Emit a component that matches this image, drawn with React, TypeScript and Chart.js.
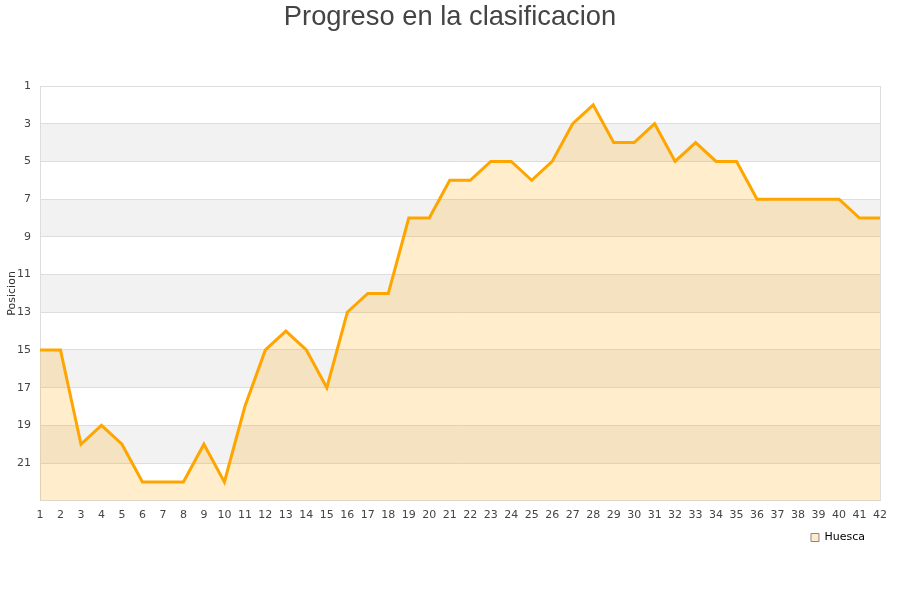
import React, { useEffect, useRef } from "react";
import { Chart, registerables } from "chart.js";

Chart.register(...registerables);

const TITLE = "Progreso en la clasificacion";
const SERIES_NAME = "Huesca";
const Y_TITLE = "Posicion";
const ROUNDS: string[] = [
  "1", "2", "3", "4", "5", "6", "7", "8", "9", "10",
  "11", "12", "13", "14", "15", "16", "17", "18", "19", "20",
  "21", "22", "23", "24", "25", "26", "27", "28", "29", "30",
  "31", "32", "33", "34", "35", "36", "37", "38", "39", "40",
  "41", "42",
];
const POSITIONS: number[] = [
  15, 15, 20, 19, 20, 22, 22, 22, 20, 22,
  18, 15, 14, 15, 17, 13, 12, 12, 8, 8,
  6, 6, 5, 5, 6, 5, 3, 2, 4, 4,
  3, 5, 4, 5, 5, 7, 7, 7, 7, 7,
  8, 8,
];
const Y_MIN = 1;
const Y_MAX = 23;
const Y_STEP = 2;

const bandsPlugin = {
  id: "bands",
  beforeDraw(chart: any) {
    const { ctx, chartArea, scales } = chart;
    const y = scales.y;
    ctx.save();
    ctx.fillStyle = "#f2f2f2";
    let k = 0;
    for (let v = Y_MIN; v < Y_MAX; v += Y_STEP, k++) {
      if (k % 2 === 1) {
        const a = y.getPixelForValue(v);
        const b = y.getPixelForValue(v + Y_STEP);
        ctx.fillRect(chartArea.left, Math.min(a, b), chartArea.right - chartArea.left, Math.abs(b - a));
      }
    }
    ctx.restore();
  },
};

const titlePlugin = {
  id: "centerTitle",
  afterDraw(chart: any) {
    const { ctx, width } = chart;
    ctx.save();
    ctx.fillStyle = "#444";
    ctx.font = "27.3px 'Liberation Sans', Arial, sans-serif";
    ctx.textAlign = "center";
    ctx.textBaseline = "middle";
    ctx.fillText(TITLE, width / 2, 17);
    ctx.restore();
  },
};

const legendShiftPlugin = {
  id: "legendShift",
  afterLayout(chart: any) {
    const l = chart.legend;
    if (l) {
      l.left -= 13;
      l.right -= 13;
    }
  },
};

export default function App() {
  const ref = useRef<HTMLCanvasElement | null>(null);
  useEffect(() => {
    document.body.style.margin = "0";
    const canvas = ref.current;
    if (!canvas) return;
    const last = ROUNDS.length - 1;
    const chart = new Chart(canvas, {
      type: "line",
      data: {
        labels: ROUNDS,
        datasets: [
          {
            label: SERIES_NAME,
            data: POSITIONS,
            borderColor: "#FFA500",
            backgroundColor: "rgba(255,165,0,0.2)",
            borderWidth: 3,
            pointRadius: 0,
            pointHoverRadius: 0,
            tension: 0,
            fill: "start",
          },
        ],
      },
      options: {
        animation: false,
        responsive: false,
        devicePixelRatio: 1,
        layout: { padding: { left: 4, right: 20, top: 86, bottom: 47 } },
        plugins: {
          title: { display: false },
          legend: {
            display: true,
            position: "bottom",
            align: "end",
            labels: {
              boxWidth: 8,
              boxHeight: 8,
              padding: 2,
              color: "#000",
              font: { family: "'DejaVu Sans', sans-serif", size: 11 },
              generateLabels: (c: any) =>
                c.data.datasets.map((d: any, i: number) => ({
                  text: d.label,
                  fillStyle: "#FFEBCC",
                  strokeStyle: "#888",
                  lineWidth: 1,
                  datasetIndex: i,
                  hidden: false,
                })),
            },
          },
          tooltip: { enabled: false },
        },
        scales: {
          x: {
            type: "category",
            offset: false,
            grid: {
              drawTicks: false,
              color: (c: any) => (c.index === 0 || c.index === last ? "#dddddd" : "rgba(0,0,0,0)"),
            },
            border: { display: true, color: "#dddddd" },
            ticks: {
              autoSkip: false,
              maxRotation: 0,
              minRotation: 0,
              padding: 8,
              color: "#444",
              font: { family: "'DejaVu Sans', sans-serif", size: 11 },
            },
          },
          y: {
            reverse: true,
            min: Y_MIN,
            max: Y_MAX,
            afterFit: (s: any) => {
              s.width = 36;
            },
            grid: { drawTicks: false, color: "#dddddd" },
            border: { display: true, color: "#dddddd" },
            ticks: {
              stepSize: Y_STEP,
              padding: 9,
              color: "#444",
              font: { family: "'DejaVu Sans', sans-serif", size: 11 },
              callback: (v: any) => (v === Y_MAX ? "" : String(v)),
            },
            title: {
              display: true,
              text: Y_TITLE,
              color: "#333",
              padding: { top: 2, bottom: 0 },
              font: { family: "'DejaVu Sans', sans-serif", size: 11 },
            },
          },
        },
      },
      plugins: [bandsPlugin, titlePlugin, legendShiftPlugin],
    } as any);
    return () => chart.destroy();
  }, []);
  return (
    <div style={{ position: "absolute", left: 0, top: 0, width: 900, height: 600 }}>
      <canvas ref={ref} width={900} height={600} style={{ width: 900, height: 600 }} />
    </div>
  );
}
